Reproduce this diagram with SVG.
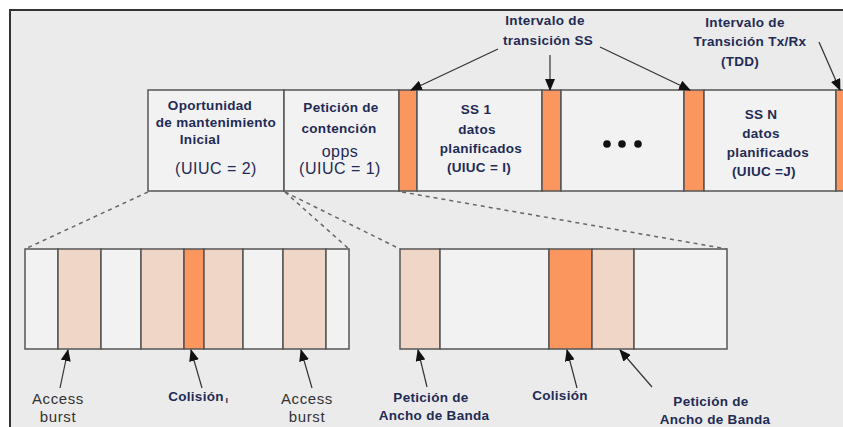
<svg xmlns="http://www.w3.org/2000/svg" width="843" height="427" viewBox="0 0 843 427">
<defs>
<marker id="ah" viewBox="0 0 12 10" refX="11" refY="5" markerWidth="12" markerHeight="10" markerUnits="userSpaceOnUse" orient="auto">
<path d="M0,0 L12,5 L0,10 z" fill="#111"/>
</marker>
<style>
.cell{stroke:#555;stroke-width:1.5}
.w{fill:#f2f2f2}
.p{fill:#f0d6c6}
.o{fill:#fb965f}
.t{font-family:"Liberation Sans",Arial,sans-serif;font-size:13.5px;font-weight:bold;letter-spacing:0.3px;fill:#1f2b55;text-anchor:middle}
.n{font-family:"Liberation Sans",Arial,sans-serif;font-size:16px;letter-spacing:0.5px;fill:#1f2b55;text-anchor:middle}
.a{font-family:"Liberation Sans",Arial,sans-serif;font-size:15px;letter-spacing:0.6px;fill:#333;text-anchor:middle}
.arr{stroke:#333;stroke-width:1.2;fill:none;marker-end:url(#ah)}
.dash{stroke:#666;stroke-width:1.5;stroke-dasharray:4,4;fill:none}
</style>
</defs>
<rect width="843" height="427" fill="#ffffff"/>
<rect x="10" y="10" width="850" height="430" fill="#ebebeb" stroke="#333" stroke-width="2"/>

<g id="top-row">
<g id="n-mant"><rect class="cell w" x="148" y="90" width="136" height="101"/>
<text class="t" x="210" y="110">Oportunidad</text>
<text class="t" x="216" y="127">de mantenimiento</text>
<text class="t" x="200" y="144">Inicial</text>
<text class="n" x="216" y="174">(UIUC = 2)</text></g>
<g id="n-cont"><rect class="cell w" x="284" y="90" width="115" height="101"/>
<text class="t" x="341" y="112">Petición de</text>
<text class="t" x="339" y="133">contención</text>
<text class="n" x="340" y="157">opps</text>
<text class="n" x="340" y="174">(UIUC = 1)</text></g>
<g id="n-g1"><rect class="cell o" x="399" y="90" width="18" height="101"/></g>
<g id="n-ss1"><rect class="cell w" x="417" y="90" width="125" height="101"/>
<text class="t" x="476" y="114">SS 1</text>
<text class="t" x="477" y="134">datos</text>
<text class="t" x="481" y="153">planificados</text>
<text class="t" x="479" y="172">(UIUC = I)</text></g>
<g id="n-g2"><rect class="cell o" x="542" y="90" width="19" height="101"/></g>
<g id="n-dots"><rect class="cell w" x="561" y="90" width="123" height="101"/>
<circle cx="607" cy="144" r="3.8" fill="#111"/>
<circle cx="622" cy="144" r="3.8" fill="#111"/>
<circle cx="638" cy="144" r="3.8" fill="#111"/></g>
<g id="n-g3"><rect class="cell o" x="684" y="90" width="20" height="101"/></g>
<g id="n-ssn"><rect class="cell w" x="704" y="90" width="132" height="101"/>
<text class="t" x="761" y="119">SS N</text>
<text class="t" x="761" y="138">datos</text>
<text class="t" x="768" y="157">planificados</text>
<text class="t" x="764" y="176">(UIUC =J)</text></g>
<g id="n-g4"><rect class="cell o" x="836" y="90" width="12" height="101"/></g>
</g>

<g id="labels-top">
<text class="t" x="545" y="25">Intervalo de</text>
<text class="t" x="548" y="45">transición SS</text>
<text class="t" x="745" y="27">Intervalo de</text>
<text class="t" x="750" y="46">Transición Tx/Rx</text>
<text class="t" x="740" y="66">(TDD)</text>
</g>

<g id="row-a">
<rect class="cell w" x="25" y="249" width="33" height="100"/>
<rect class="cell p" x="58" y="249" width="43" height="100"/>
<rect class="cell w" x="101" y="249" width="40" height="100"/>
<rect class="cell p" x="141" y="249" width="43" height="100"/>
<rect class="cell o" x="184" y="249" width="20" height="100"/>
<rect class="cell p" x="204" y="249" width="39" height="100"/>
<rect class="cell w" x="243" y="249" width="40" height="100"/>
<rect class="cell p" x="283" y="249" width="43" height="100"/>
<rect class="cell w" x="326" y="249" width="23" height="100"/>
</g>

<g id="row-b">
<rect class="cell p" x="400" y="249" width="40" height="100"/>
<rect class="cell w" x="440" y="249" width="109" height="100"/>
<rect class="cell o" x="549" y="249" width="43" height="100"/>
<rect class="cell p" x="592" y="249" width="42" height="100"/>
<rect class="cell w" x="634" y="249" width="93" height="100"/>
</g>

<g id="connectors">
<line class="dash" x1="148" y1="192" x2="25" y2="249"/>
<line class="dash" x1="285" y1="192" x2="349" y2="249"/>
<line class="dash" x1="285" y1="192" x2="400" y2="249"/>
<line class="dash" x1="402" y1="192" x2="727" y2="249"/>
<line class="arr" x1="498" y1="49" x2="411" y2="90"/>
<line class="arr" x1="550" y1="55" x2="550" y2="90"/>
<line class="arr" x1="600" y1="47" x2="690" y2="90"/>
<line class="arr" x1="819" y1="42" x2="840" y2="90"/>
<line class="arr" x1="60" y1="388" x2="68" y2="350"/>
<line class="arr" x1="202" y1="388" x2="191" y2="350"/>
<line class="arr" x1="312" y1="388" x2="301" y2="350"/>
<line class="arr" x1="427" y1="387" x2="418" y2="350"/>
<line class="arr" x1="577" y1="388" x2="567" y2="350"/>
<line class="arr" x1="652" y1="387" x2="620" y2="350"/>
</g>

<g id="labels-bottom">
<text class="a" x="58" y="404">Access</text>
<text class="a" x="58" y="422">burst</text>
<text class="t" x="196" y="401">Colisión</text><text class="t" x="227" y="403" style="font-size:9px">ı</text>
<text class="a" x="307" y="404">Access</text>
<text class="a" x="307" y="422">burst</text>
<text class="t" x="431" y="402">Petición de</text>
<text class="t" x="434" y="420">Ancho de Banda</text>
<text class="t" x="560" y="400">Colisión</text>
<text class="t" x="711" y="406">Petición de</text>
<text class="t" x="715" y="424">Ancho de Banda</text>
</g>
</svg>
